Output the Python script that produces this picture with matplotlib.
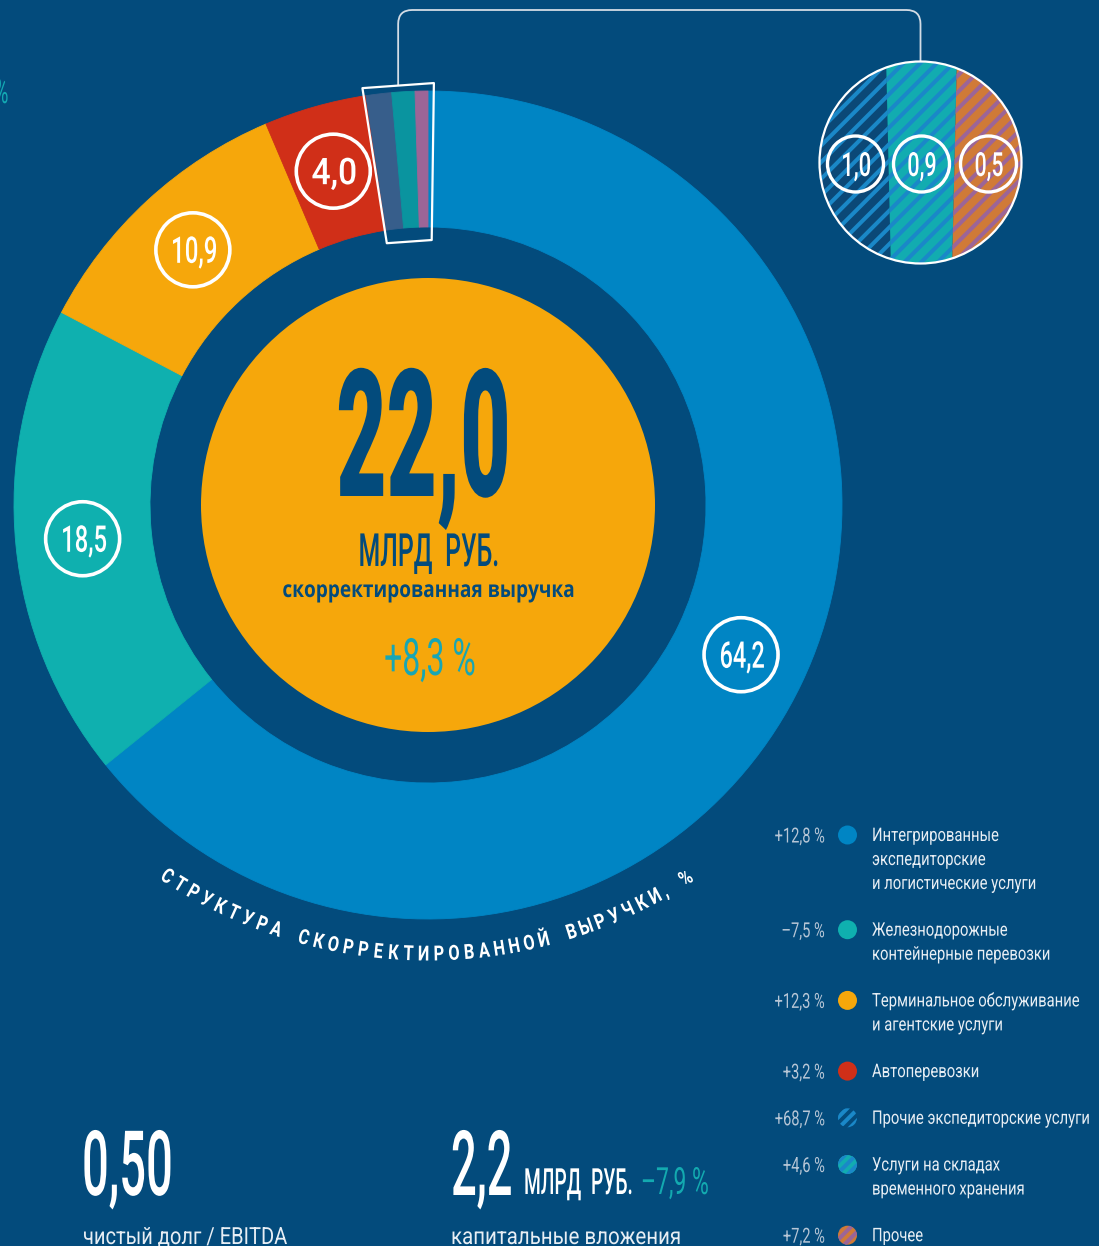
import numpy as np
import matplotlib
matplotlib.use("Agg")
import matplotlib.pyplot as plt
from matplotlib.patches import Circle, Polygon, PathPatch
from matplotlib.path import Path
from matplotlib.patheffects import AbstractPathEffect
from matplotlib.transforms import Affine2D
from matplotlib.textpath import TextPath
from matplotlib.font_manager import FontProperties

plt.rcParams['hatch.linewidth'] = 2.9
plt.rcParams['font.family'] = ['Roboto', 'DejaVu Sans']

# ---------------- data ----------------
shares = [64.2, 18.5, 10.9, 4.0, 1.0, 0.9, 0.5]
share_labels = ["64,2", "18,5", "10,9", "4,0", "1,0", "0,9", "0,5"]
growth_labels = ["+12,8 %", "–7,5 %", "+12,3 %", "+3,2 %", "+68,7 %", "+4,6 %", "+7,2 %"]
legend_lines = [
    ["Интегрированные", "экспедиторские", "и логистические услуги"],
    ["Железнодорожные", "контейнерные перевозки"],
    ["Терминальное обслуживание", "и агентские услуги"],
    ["Автоперевозки"],
    ["Прочие экспедиторские услуги"],
    ["Услуги на складах", "временного хранения"],
    ["Прочее"],
]
total_value = "22,0"
total_unit = "МЛРД\u2002РУБ."
total_caption = "скорректированная выручка"
total_growth = "+8,3 %"
chart_title = "СТРУКТУРА СКОРРЕКТИРОВАННОЙ ВЫРУЧКИ, %"
kpi_values = ["0,50", "2,2"]
kpi_captions = ["чистый долг / EBITDA", "капитальные вложения"]
capex_unit = "МЛРД\u2002РУБ."
capex_growth = "–7,9 %"
cut_text = "%"

# ---------------- style ----------------
W, H = 1099, 1246
BG = "#034B7C"
seg_colors = ["#0085C4", "#0FB0AF", "#F6A70B", "#D02F18", "#375E8B", "#0A949F", "#9C6597"]
hatch_colors = ["#1A88C8", "#1A88C8", "#9C6597"]
stripe_base = ["#0B4877", "#12ACB0", "#D07A37"]
TEAL = "#18A6B4"
LEG_TXT = "#E8EEF4"
LEG_PCT = "#B7C6D6"

fig = plt.figure(figsize=(W / 100, H / 100), dpi=100)
fig.patch.set_facecolor(BG)
ax = fig.add_axes([0, 0, 1, 1])
ax.set_facecolor(BG)


def Y(v):
    return H - v


class Condense(AbstractPathEffect):
    def __init__(self, sx, anchor):
        super().__init__()
        self.sx, self.anchor = sx, anchor

    def draw_path(self, renderer, gc, tpath, affine, rgbFace=None):
        ext = tpath.get_extents()
        if self.anchor == 'left':
            x0 = 0.0
        elif self.anchor == 'right':
            x0 = ext.x1
        else:
            x0 = 0.5 * (ext.x0 + ext.x1)
        t = Affine2D().translate(-x0, 0).scale(self.sx, 1).translate(x0, 0)
        renderer.draw_path(gc, tpath, t + affine, rgbFace)


def ink_width(s, size, weight='normal', family='Roboto'):
    fp = FontProperties(family=[family, 'DejaVu Sans'], weight=weight, size=size)
    return TextPath((0, 0), s, prop=fp).get_extents().width * 100 / 72


def ctext(x, y, s, size, width=None, sx=1.0, ha='center', va='baseline',
          color='white', weight='normal', family='Roboto', rot=0, zorder=10):
    fam = [family, 'DejaVu Sans']
    t = ax.text(x, Y(y), s, fontsize=size, ha=ha, va=va, color=color,
                fontweight=weight, family=fam, rotation=rot,
                rotation_mode='anchor', zorder=zorder)
    if width is not None:
        sx = width / ink_width(s, size, weight, family)
    if sx != 1.0:
        t.set_path_effects([Condense(sx, ha)])
    return t


# ---------------- donut ----------------
cx, cy = 428, 505
R_out, R_in, R_core = 414, 278, 227
R_lab = 347
wedges, _ = ax.pie(shares, colors=seg_colors, startangle=90, counterclock=False,
                   radius=R_out, center=(cx, Y(cy)), frame=True,
                   wedgeprops=dict(width=R_out - R_in, linewidth=0.6))
for w in wedges:
    w.set_edgecolor(w.get_facecolor())
ax.add_patch(Circle((cx, Y(cy)), R_core, fc=seg_colors[2], lw=0, zorder=3))

cum = np.concatenate([[0], np.cumsum(shares)])
ang = 90 - 360 * cum / cum[-1]

for i in range(4):
    m = np.radians((ang[i] + ang[i + 1]) / 2)
    lx, ly = cx + R_lab * np.cos(m), cy - R_lab * np.sin(m)
    ax.add_patch(Circle((lx, Y(ly)), 37, fill=False, ec='white', lw=2.6, zorder=5))
    ctext(lx + 1, ly + 13, share_labels[i], 26.5, width=43, weight='medium')

# highlight box around the small segments
a0 = np.radians(ang[4] + 0.3)
a1 = np.radians(ang[7] - 0.8)
box = [(cx + r * np.cos(a), Y(cy) + r * np.sin(a)) for r, a in
       [(422, a0), (422, a1), (265, a1), (265, a0)]]
ax.add_patch(Polygon(box, closed=True, fill=False, ec='white', lw=1.6,
                     joinstyle='round', zorder=6))
mx = (box[0][0] + box[1][0]) / 2
my = (box[0][1] + box[1][1]) / 2

# magnified circle
ZX, ZY, ZR = 920.5, 162.5, 101
rc = 14
top = Y(10)
verts = [(mx, my), (mx, top - rc), (mx, top), (mx + rc, top), (ZX - rc, top),
         (ZX, top), (ZX, top - rc), (ZX, Y(ZY - ZR))]
codes = [Path.MOVETO, Path.LINETO, Path.CURVE3, Path.CURVE3, Path.LINETO,
         Path.CURVE3, Path.CURVE3, Path.LINETO]
ax.add_patch(PathPatch(Path(verts, codes), fill=False, ec='#D3DCE5', lw=1.3, zorder=4))

clip = Circle((ZX, Y(ZY)), ZR, transform=ax.transData)
xs_top = [ZX - ZR - 6, 886, 957, ZX + ZR + 6]
xs_bot = [ZX - ZR - 6, 891, 952, ZX + ZR + 6]
for i in range(3):
    poly = [(xs_top[i], Y(ZY - ZR - 6)), (xs_top[i + 1], Y(ZY - ZR - 6)),
            (xs_bot[i + 1], Y(ZY + ZR + 6)), (xs_bot[i], Y(ZY + ZR + 6))]
    p = Polygon(poly, closed=True, fc=stripe_base[i], ec=hatch_colors[i], lw=0,
                hatch='//', zorder=4)
    ax.add_patch(p)
    p.set_clip_path(clip)
    sxc = (xs_top[i] + xs_top[i + 1] + xs_bot[i] + xs_bot[i + 1]) / 4
    sxc = min(max(sxc, ZX - 65), ZX + 68)
    ax.add_patch(Circle((sxc, Y(ZY + 1.5)), 28, fill=False, ec='white', lw=2.4, zorder=6))
    ctext(sxc + 0.5, ZY + 13.5, share_labels[4 + i], 24, width=27, weight='medium')
ax.add_patch(Circle((ZX, Y(ZY)), ZR, fill=False, ec='white', lw=1.6, zorder=7))

# ---------------- centre text ----------------
ctext(424, 496, total_value, 128, width=168, weight='black', color=BG)
ctext(429, 566, total_unit, 33, width=137, weight='medium', color=BG)
ctext(428, 597, total_caption, 16.5, width=290, weight='bold', color=BG, family='Open Sans')
ctext(430, 675, total_growth, 37, width=89, weight='normal', color=TEAL)

# cut-off text top-left
ctext(9, 103, cut_text, 25, sx=0.55, ha='right', color="#13A9B3")

# ---------------- curved title ----------------
tcx, tcy, tR = 428, 478, 477
t_size, t_weight = 15, 'bold'
t_sx = 9.5 / ink_width("Т", t_size, t_weight)
wts = [0.45 if c == ',' else 0.9 if c == ' ' else 1.0 for c in chart_title]
pos = [0.0]
for k in range(1, len(chart_title)):
    pos.append(pos[-1] + (wts[k - 1] + wts[k]) / 2)
pos = np.array(pos) / pos[-1]
phis = -33.2 + pos * (32.8 + 33.2)
for c, phi in zip(chart_title, phis):
    if c == ' ':
        continue
    pr = np.radians(phi)
    px = tcx + tR * np.sin(pr)
    py = tcy + tR * np.cos(pr)
    ctext(px, py, c, t_size, sx=t_sx, weight=t_weight, va='center', rot=phi)

# ---------------- legend ----------------
pct_sx = 49 / ink_width(growth_labels[0], 15)
row_y = 835
for i in range(7):
    ctext(825, row_y + 7.5, growth_labels[i], 15, sx=pct_sx, ha='right', color=LEG_PCT)
    if i < 4:
        ax.add_patch(Circle((847.5, Y(row_y)), 9.5, fc=seg_colors[i], lw=0, zorder=5))
    else:
        base = BG if i == 4 else stripe_base[i - 4]
        ax.add_patch(Circle((847.5, Y(row_y)), 9.5, fc=base, ec=hatch_colors[i - 4],
                            lw=0, hatch='///', zorder=5))
    for k, line in enumerate(legend_lines[i]):
        ctext(872, row_y + 6 + 24 * k, line, 13.5, sx=0.79, ha='left', color=LEG_TXT)
    row_y += 24 * len(legend_lines[i]) + 22.7

# ---------------- bottom KPIs ----------------
ctext(82, 1195, kpi_values[0], 65, width=86, ha='left', weight='medium')
ctext(451, 1195, kpi_values[1], 65, width=58, ha='left', weight='medium')
ctext(524, 1194, capex_unit, 26, width=106, ha='left', weight='medium')
ctext(641, 1194, capex_growth, 27, width=65, ha='left', color="#13AAB0")
ctext(83, 1244, kpi_captions[0], 17, width=203, ha='left', color=LEG_TXT)
ctext(451, 1244, kpi_captions[1], 17, width=227, ha='left', color=LEG_TXT)

ax.set_xlim(0, W)
ax.set_ylim(0, H)
ax.axis('off')
fig.savefig("out.png", dpi=100, facecolor=BG)
